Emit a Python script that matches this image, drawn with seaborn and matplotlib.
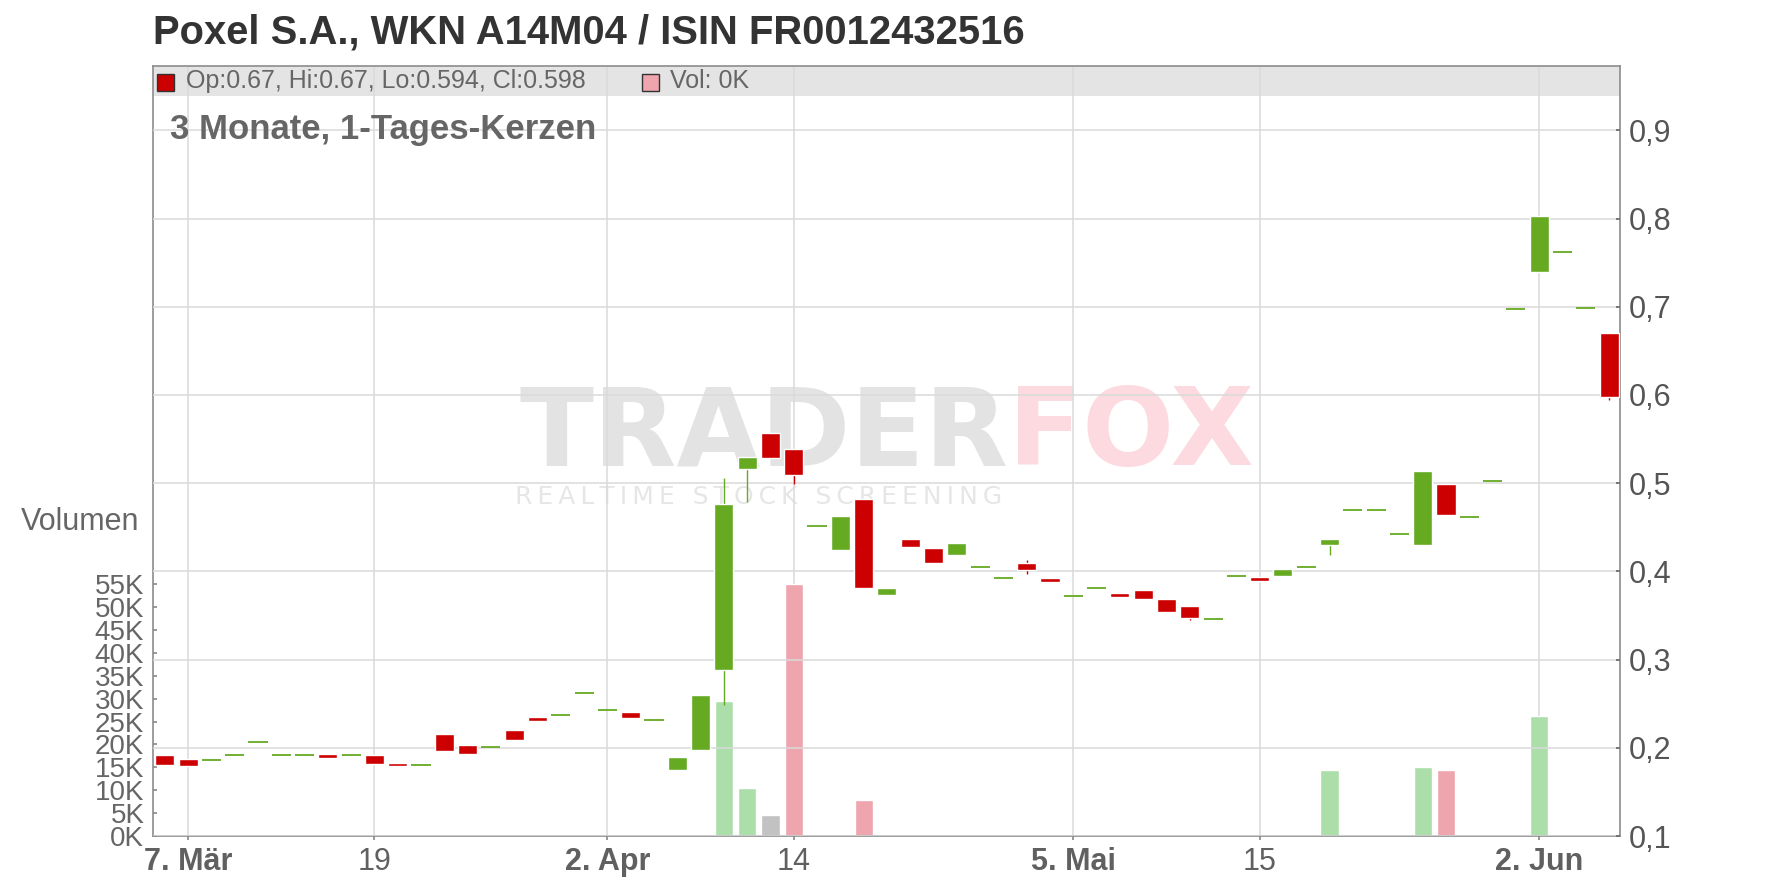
import pandas as pd
import matplotlib.pyplot as plt
import numpy as np
import seaborn as sns
from matplotlib.patches import Rectangle

# daily candles Poxel (trading days only)
dates = ["2025-03-06", "2025-03-07", "2025-03-10", "2025-03-11", "2025-03-12", "2025-03-13", "2025-03-14",
         "2025-03-17", "2025-03-18", "2025-03-19", "2025-03-20", "2025-03-21", "2025-03-24", "2025-03-25",
         "2025-03-26", "2025-03-27", "2025-03-28", "2025-03-31",
         "2025-04-01", "2025-04-02", "2025-04-03", "2025-04-04", "2025-04-07", "2025-04-08", "2025-04-09",
         "2025-04-10", "2025-04-11", "2025-04-14", "2025-04-15", "2025-04-16", "2025-04-17", "2025-04-22",
         "2025-04-23", "2025-04-24", "2025-04-25", "2025-04-28", "2025-04-29", "2025-04-30",
         "2025-05-02", "2025-05-05", "2025-05-06", "2025-05-07", "2025-05-08", "2025-05-09", "2025-05-12",
         "2025-05-13", "2025-05-14", "2025-05-15", "2025-05-16", "2025-05-19", "2025-05-20", "2025-05-21",
         "2025-05-22", "2025-05-23", "2025-05-26", "2025-05-27", "2025-05-28", "2025-05-29", "2025-05-30",
         "2025-06-02", "2025-06-03", "2025-06-04", "2025-06-05"]

opens = [0.192, 0.187, 0.186, 0.192, 0.207, 0.192, 0.192, 0.193, 0.192, 0.192, 0.183, 0.180, 0.216, 0.203,
         0.201, 0.220, 0.235, 0.237,
         0.262, 0.243, 0.241, 0.232, 0.175, 0.197, 0.288, 0.516, 0.557, 0.539, 0.451, 0.424, 0.482, 0.373,
         0.437, 0.427, 0.419, 0.405, 0.393, 0.410,
         0.392, 0.372, 0.381, 0.376, 0.379, 0.369, 0.361, 0.346, 0.395, 0.394, 0.395, 0.405, 0.430, 0.470,
         0.470, 0.442, 0.430, 0.499, 0.462, 0.502, 0.698,
         0.740, 0.762, 0.699, 0.670]
highs = [0.192, 0.187, 0.186, 0.192, 0.207, 0.192, 0.192, 0.193, 0.192, 0.192, 0.183, 0.180, 0.216, 0.203,
         0.201, 0.220, 0.235, 0.237,
         0.262, 0.243, 0.241, 0.232, 0.190, 0.260, 0.506, 0.530, 0.557, 0.539, 0.451, 0.463, 0.482, 0.381,
         0.437, 0.427, 0.432, 0.405, 0.393, 0.413,
         0.392, 0.372, 0.381, 0.376, 0.379, 0.369, 0.361, 0.346, 0.395, 0.394, 0.403, 0.405, 0.437, 0.470,
         0.470, 0.442, 0.514, 0.499, 0.462, 0.502, 0.698,
         0.803, 0.762, 0.699, 0.670]
lows = [0.181, 0.179, 0.186, 0.192, 0.207, 0.192, 0.192, 0.188, 0.192, 0.182, 0.179, 0.180, 0.196, 0.193,
        0.201, 0.209, 0.230, 0.237,
        0.262, 0.243, 0.234, 0.232, 0.175, 0.197, 0.249, 0.479, 0.529, 0.499, 0.451, 0.424, 0.381, 0.373,
        0.428, 0.410, 0.419, 0.405, 0.393, 0.397,
        0.388, 0.372, 0.381, 0.371, 0.369, 0.354, 0.345, 0.346, 0.395, 0.389, 0.395, 0.405, 0.419, 0.470,
        0.470, 0.442, 0.430, 0.464, 0.462, 0.502, 0.698,
        0.740, 0.762, 0.699, 0.594]
closes = [0.181, 0.179, 0.186, 0.192, 0.207, 0.192, 0.192, 0.188, 0.192, 0.182, 0.179, 0.180, 0.196, 0.193,
          0.201, 0.209, 0.230, 0.237,
          0.262, 0.243, 0.234, 0.232, 0.190, 0.260, 0.476, 0.530, 0.529, 0.509, 0.451, 0.463, 0.381, 0.381,
          0.428, 0.410, 0.432, 0.405, 0.393, 0.402,
          0.388, 0.372, 0.381, 0.371, 0.369, 0.354, 0.347, 0.346, 0.395, 0.389, 0.403, 0.405, 0.437, 0.470,
          0.470, 0.442, 0.514, 0.464, 0.462, 0.502, 0.698,
          0.803, 0.762, 0.699, 0.598]

# volume in thousand shares (only days with turnover)
vol_dates = ["2025-04-09", "2025-04-10", "2025-04-11", "2025-04-14", "2025-04-17", "2025-05-12",
             "2025-05-20", "2025-05-26", "2025-05-27", "2025-06-02"]
vol_k = [29.5, 10.5, 4.6, 55.0, 7.9, 0.2, 14.4, 15.1, 14.4, 26.2]
vol_dir = ["up", "up", "flat", "down", "down", "down", "up", "up", "down", "up"]

tick_dates = ["2025-03-07", "2025-03-19", "2025-04-02", "2025-04-14", "2025-05-05", "2025-05-15", "2025-06-02"]
tick_labels = ["7. Mär", "19", "2. Apr", "14", "5. Mai", "15", "2. Jun"]
tick_bold = [True, False, True, False, True, False, True]
price_ticks = [0.1, 0.2, 0.3, 0.4, 0.5, 0.6, 0.7, 0.8, 0.9]
vol_ticks = [0, 5, 10, 15, 20, 25, 30, 35, 40, 45, 50, 55]

df = pd.DataFrame({"date": dates, "open": opens, "high": highs, "low": lows, "close": closes})
df["pos"] = np.arange(len(df))
vol = pd.DataFrame({"date": vol_dates, "vol": vol_k, "dir": vol_dir})
vol["pos"] = vol["date"].map(dict(zip(df["date"], df["pos"])))

sns.set_theme(style="white")
plt.rcParams['font.family'] = ['Liberation Sans', 'DejaVu Sans']

GREEN = "#66aa22"
RED = "#cc0000"
GRID = "#dadada"
TXT = "#666666"

fig = plt.figure(figsize=(17.76, 8.88), dpi=100)
W, H = 1776, 888
x0, x1, y0, y1 = 152.7, 1620, 836, 66
ax_vol = fig.add_axes([x0 / W, 1 - y0 / H, (x1 - x0) / W, (y0 - y1) / H])
ax = ax_vol.twinx()

# volume bars
sns.barplot(data=vol, x="pos", y="vol", hue="dir", native_scale=True, dodge=False, width=0.78,
            palette={"up": "#acdeaa", "down": "#eea5ad", "flat": "#c2c2c2"}, saturation=1,
            legend=False, ax=ax_vol, zorder=2)
ax_vol.set_xlabel("")
ax_vol.set_ylabel("")
ax_vol.set_xlim(-0.52, len(df) - 0.53)
ax_vol.set_ylim(0, 168.3)
ax_vol.set_yticks(vol_ticks)
ax_vol.set_yticklabels([f"{v}K" for v in vol_ticks])
tpos = [df.loc[df["date"] == d, "pos"].iloc[0] for d in tick_dates]
ax_vol.set_xticks(tpos)
ax_vol.set_xticklabels(tick_labels)
for lab, b in zip(ax_vol.get_xticklabels(), tick_bold):
    lab.set_fontweight("bold" if b else "normal")
ax_vol.tick_params(axis="x", direction="out", length=3, width=1.2, color="#888888", labelsize=22,
                   labelcolor="#606060", pad=5, bottom=True)
ax_vol.tick_params(axis="y", direction="in", length=3, width=1.2, color="#888888", labelsize=20,
                   labelcolor=TXT, pad=6, left=True)
ax_vol.set_axisbelow(True)
ax_vol.grid(True, axis="x", color=GRID, lw=1.1)
ax_vol.grid(False, axis="y")

# legend band on top of plot area
ax_vol.add_patch(Rectangle((0, 1 - 30 / 770), 1, 30 / 770, transform=ax_vol.transAxes,
                           facecolor="#e4e4e4", edgecolor="none", zorder=0.1))

# watermark
ax_vol.text(1008 / W, 1 - 465 / H, "TRADER", transform=fig.transFigure, ha="right", va="baseline",
            fontsize=78, fontweight="bold", family="DejaVu Sans", color="#e3e3e3", zorder=0.2)
ax_vol.text(1008 / W, 1 - 465 / H, "FOX", transform=fig.transFigure, ha="left", va="baseline",
            fontsize=78, fontweight="bold", family="DejaVu Sans", color="#fcdadf", zorder=0.2)
ax_vol.text(759 / W, 1 - 497 / H, "\u2009".join("REALTIME STOCK SCREENING"), transform=fig.transFigure,
            ha="center", va="center", fontsize=18, family="DejaVu Sans", color="#e6e6e6", zorder=0.2)

for s in ax_vol.spines.values():
    s.set_color("#8c8c8c")
    s.set_linewidth(1.2)

# candles
ax.set_ylim(0.1, 0.973)
ax.set_yticks(price_ticks)
ax.set_yticklabels([f"{p:.1f}".replace(".", ",") for p in price_ticks])
ax.tick_params(axis="y", direction="in", length=3, width=1.2, color="#666666", labelsize=22,
               labelcolor="#555555", pad=6, right=True)
ax.grid(True, axis="y", color=GRID, lw=1.1)
ax.set_axisbelow(True)
for s in ax.spines.values():
    s.set_visible(False)

bw = 0.82
flat = df[df["open"] == df["close"]]
up = df[df["close"] > df["open"]]
down = df[df["close"] < df["open"]]
ax.vlines(df["pos"], df["low"], df["high"], color=np.where(df["close"] >= df["open"], GREEN, RED),
          lw=1.0, zorder=3)
ax.bar(up["pos"], up["close"] - up["open"], bottom=up["open"], width=bw, color=GREEN, zorder=4)
ax.bar(down["pos"], down["open"] - down["close"], bottom=down["close"], width=bw, color=RED, zorder=4)
ax.hlines(flat["close"], flat["pos"] - bw / 2, flat["pos"] + bw / 2, color=GREEN, lw=1.3, zorder=4)

# texts
fig.text(x0 / W, 1 - 32 / H, "Poxel S.A., WKN A14M04 / ISIN FR0012432516", ha="left", va="center",
         fontsize=28.8, fontweight="bold", color="#333333")
fig.text(170 / W, 1 - 129 / H, "3 Monate, 1-Tages-Kerzen", ha="left", va="center",
         fontsize=25, fontweight="bold", color=TXT)
fig.text(139 / W, 1 - 522 / H, "Volumen", ha="right", va="center", fontsize=22, color=TXT)

last = df.iloc[-1]
fig.patches.append(Rectangle((157 / W, 1 - 91 / H), 17 / W, 17 / H, transform=fig.transFigure,
                             facecolor=RED, edgecolor="#333333", lw=1))
fig.text(186 / W, 1 - 81 / H,
         f"Op:{last['open']:g}, Hi:{last['high']:g}, Lo:{last['low']:g}, Cl:{last['close']:g}",
         ha="left", va="center", fontsize=18, color=TXT)
fig.patches.append(Rectangle((642 / W, 1 - 91 / H), 17 / W, 17 / H, transform=fig.transFigure,
                             facecolor="#eea5ad", edgecolor="#333333", lw=1))
fig.text(670 / W, 1 - 81 / H, "Vol: 0K", ha="left", va="center", fontsize=18, color=TXT)

fig.savefig("out.png", dpi=100)
